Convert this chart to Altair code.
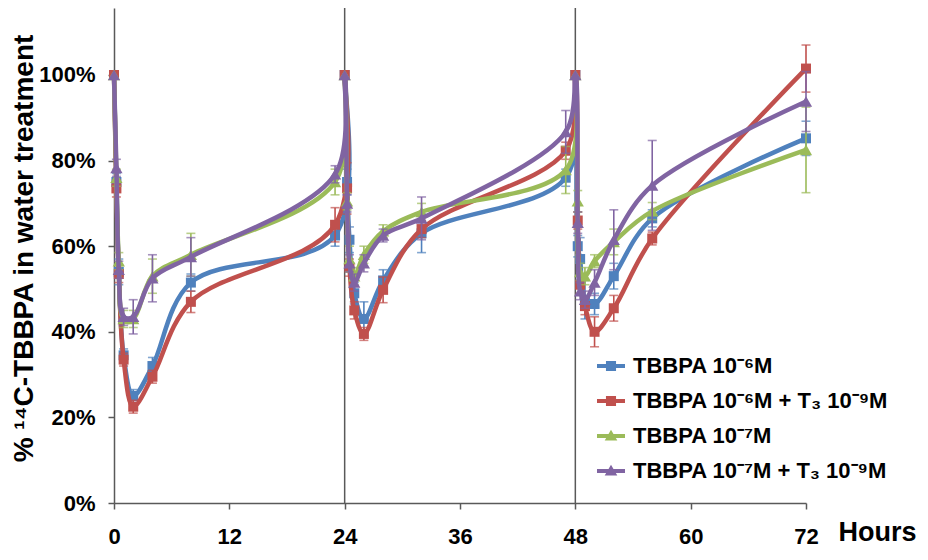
import altair as alt
import pandas as pd

FONT = "Liberation Sans"
AX = "#595959"

hours = [0, 0.25, 0.5, 1, 2, 4, 8, 23,
         24, 24.25, 24.5, 25, 26, 28, 32, 47,
         48, 48.25, 48.5, 49, 50, 52, 56, 72]

series_names = ["TBBPA 10⁻⁶M", "TBBPA 10⁻⁶M + T₃ 10⁻⁹M",
                "TBBPA 10⁻⁷M", "TBBPA 10⁻⁷M + T₃ 10⁻⁹M"]
series_colors = ["#4F81BD", "#C0504D", "#9BBB59", "#8064A2"]
series_shapes = ["square", "square", "triangle-up", "triangle-up"]
series_sizes = [100, 100, 150, 150]
legend_symbols = [
    "M-1,-0.14H1V0.14H-1Z M-0.36,-0.36H0.36V0.36H-0.36Z",
    "M-1,-0.14H1V0.14H-1Z M-0.36,-0.36H0.36V0.36H-0.36Z",
    "M-1,-0.14H1V0.14H-1Z M0,-0.45L0.45,0.32H-0.45Z",
    "M-1,-0.14H1V0.14H-1Z M0,-0.45L0.45,0.32H-0.45Z",
]

blue = [100, 75, 54, 34.5, 25, 32, 51.5, 62.5,
        100, 75, 61.5, 49, 43, 52, 63, 76,
        100, 60, 57, 47.5, 46.5, 53, 66.5, 85.2]
red = [100, 73.5, 53.5, 33.5, 22.5, 29.5, 47, 65,
       100, 73.5, 55, 45, 39.5, 49.8, 64, 82.3,
       100, 66, 51, 46, 40, 45.5, 61.8, 101.5]
green = [100, 76, 56.5, 43, 43, 53, 58, 75,
         100, 70.5, 57, 53, 58, 63.5, 68, 77.8,
         100, 70.5, 54, 53, 56.5, 61, 68.2, 82.5]
purple = [100, 78.3, 54.5, 43.5, 43.5, 52.5, 57.5, 76.8,
          100, 70, 56, 51.5, 56, 62.5, 66.5, 86.7,
          100, 65.5, 49.5, 47.5, 51.5, 61.5, 74.2, 93.8]

blue_err = [0, 2, 3, 1.5, 1.5, 2, 2, 2.5,
            0, 3, 3, 2.5, 4, 2.5, 4.5, 2,
            0, 2.5, 5, 4.5, 2.5, 3, 2, 4]
red_err = [0, 2, 2, 1.5, 1.5, 1.5, 2.5, 4,
           0, 6, 2, 2, 1.5, 3, 2, 2,
           0, 2, 2, 2, 3.5, 3, 1.5, 5.5]
green_err = [0, 2, 2, 2, 2, 4, 5, 3,
             0, 2, 3, 2, 2, 1.5, 2, 5.5,
             0, 2.5, 2, 2, 1.5, 3, 2, 10]
purple_err = [0, 2, 2, 2, 4, 5.5, 4.5, 2,
              0, 2, 2, 2, 2, 1.5, 5, 5,
              0, 2.5, 2, 2, 3, 7, 10.5, 7]

x_ticks = [0, 12, 24, 36, 48, 60, 72]
y_ticks = [0, 20, 40, 60, 80, 100]
day_boundaries = [24, 48]

values = dict(zip(series_names, [blue, red, green, purple]))
errors = dict(zip(series_names, [blue_err, red_err, green_err, purple_err]))

rows = []
for name in series_names:
    for h, v, e in zip(hours, values[name], errors[name]):
        rows.append({"series": name, "hours": h, "value": v,
                     "lo": v - e, "hi": v + e, "err": e})
df = pd.DataFrame(rows)

YMAX = 115.65
xs = alt.Scale(domain=[0, 72], nice=False, zero=False)
ys = alt.Scale(domain=[0, YMAX], nice=False)

x_axis = alt.Axis(
    values=x_ticks, title="Hours", grid=False,
    labelFont=FONT, labelFontSize=22, labelFontWeight="bold", labelColor="black",
    labelPadding=17, labelFlush=False, labelOverlap=False,
    tickSize=6, tickWidth=1.5, tickColor=AX, domainColor=AX, domainWidth=1.5,
    titleFont=FONT, titleFontSize=27, titleFontWeight="bold", titleColor="black",
    titleX=724, titleY=37, titleAlign="left", titleAnchor="start",
    titleBaseline="alphabetic",
)
y_axis = alt.Axis(
    values=y_ticks, labelExpr="datum.value + '%'", grid=False,
    labelFont=FONT, labelFontSize=22, labelFontWeight="bold", labelColor="black",
    labelPadding=13, labelFlush=False, labelOverlap=False,
    tickSize=6, tickWidth=1.5, tickColor=AX, domainColor=AX, domainWidth=1.5,
    title="% ¹⁴C-TBBPA in water treatment",
    titleFont=FONT, titleFontSize=28, titleFontWeight="bold", titleColor="black",
    titleAngle=270, titleX=-82, titleY=240, titleAlign="center",
    titleBaseline="alphabetic",
)

X = alt.X("hours:Q", scale=xs, axis=x_axis)
Y = alt.Y("value:Q", scale=ys, axis=y_axis)

layers = []
rules = alt.Chart(pd.DataFrame({"hours": day_boundaries})).mark_rule(
    color=AX, strokeWidth=1.5).encode(x=X)
layers.append(rules)

for i, name in enumerate(series_names):
    sdf = df[df["series"] == name]
    edf = sdf[sdf["err"] > 0]
    col = series_colors[i]
    err_rule = alt.Chart(edf).mark_rule(color=col, strokeWidth=1.6).encode(
        x=X, y=alt.Y("lo:Q", scale=ys, axis=y_axis), y2="hi:Q")
    cap_hi = alt.Chart(edf).mark_tick(color=col, orient="horizontal", size=9,
                                      thickness=1.6).encode(
        x=X, y=alt.Y("hi:Q", scale=ys, axis=y_axis))
    cap_lo = alt.Chart(edf).mark_tick(color=col, orient="horizontal", size=9,
                                      thickness=1.6).encode(
        x=X, y=alt.Y("lo:Q", scale=ys, axis=y_axis))
    line = alt.Chart(sdf).mark_line(color=col, strokeWidth=4.5,
                                    interpolate="catmull-rom").encode(x=X, y=Y)
    pts = alt.Chart(sdf).mark_point(filled=True, opacity=1, color=col,
                                    shape=series_shapes[i],
                                    size=series_sizes[i]).encode(x=X, y=Y)
    layers += [err_rule, cap_hi, cap_lo, line, pts]

leg = alt.Legend(
    title=None, orient="none", legendX=483, legendY=344,
    symbolSize=784, symbolStrokeWidth=0, symbolOpacity=1,
    labelFont=FONT, labelFontSize=22, labelFontWeight="bold", labelColor="black",
    labelOffset=8, rowPadding=10, padding=0, labelLimit=500,
)
legend_layer = alt.Chart(df).transform_filter("false").mark_point(
    filled=True).encode(
    color=alt.Color("series:N", scale=alt.Scale(domain=series_names,
                                                range=series_colors),
                    legend=leg),
    shape=alt.Shape("series:N", scale=alt.Scale(domain=series_names,
                                                range=legend_symbols),
                    legend=leg),
)
layers.append(legend_layer)

chart = alt.layer(*layers).properties(
    width=692, height=495,
    autosize=alt.AutoSizeParams(type="none"),
    padding={"left": 106, "top": 0, "right": 114, "bottom": 45},
    background="white",
).configure_view(stroke=None)

chart.save("out.html", embed_options={"renderer": "svg", "actions": False})
